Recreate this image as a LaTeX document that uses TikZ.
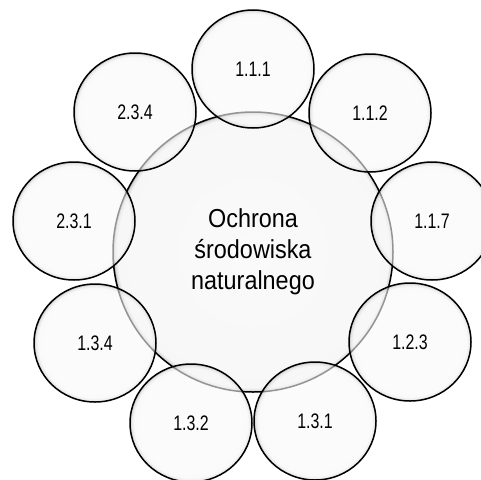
\documentclass[tikz,border=0pt]{standalone}
\usepackage{fontspec}
\setmainfont[FakeStretch=0.9]{Liberation Sans}
\newfontfamily\labelfont[FakeStretch=0.76]{Liberation Sans}
\usetikzlibrary{shapes.geometric}

% soft grey rim inside each bubble (the path edge sits at 25bp)
\pgfdeclareradialshading{bubble}{\pgfpoint{0bp}{0bp}}{color(0bp)=(black!2); color(23.2bp)=(black!3); color(24.4bp)=(black!14); color(25bp)=(black!40); color(50bp)=(black!40)}
\pgfdeclareradialshading{bigbubble}{\pgfpoint{0bp}{0bp}}{color(0bp)=(black!2); color(24.2bp)=(black!3); color(24.75bp)=(black!14); color(25bp)=(black!40); color(50bp)=(black!40)}

\begin{document}
\begin{tikzpicture}[x=1pt, y=-1pt,
    hub/.style={circle, draw=black, line width=1.5pt, minimum size=280pt, inner sep=0pt,
      shading=bigbubble, align=center, font=\fontsize{26}{31}\selectfont},
    item/.style={ellipse, draw=black, line width=1.5pt, minimum width=122pt, minimum height=118pt,
      inner sep=0pt, shading=bubble, fill opacity=0.6, draw opacity=1, text opacity=1,
      font=\labelfont\fontsize{21}{23}\selectfont},
]
\useasboundingbox (0,0) rectangle (481,479);
\clip (0,0) rectangle (481,479);

% Centre
\node[hub] (centre) at (253,252) {Ochrona\\środowiska\\naturalnego};

% Surrounding topics
\node[item] (t111) at (253,69) {1.1.1};
\node[item] (t112) at (370,113) {1.1.2};
\node[item] (t117) at (432,221) {1.1.7};
\node[item] (t123) at (410,342) {1.2.3};
\node[item] (t131) at (315,421) {1.3.1};
\node[item] (t132) at (191,423) {1.3.2};
\node[item] (t134) at (95,343) {1.3.4};
\node[item] (t231) at (74,221) {2.3.1};
\node[item] (t234) at (135,112) {2.3.4};

\end{tikzpicture}
\end{document}
